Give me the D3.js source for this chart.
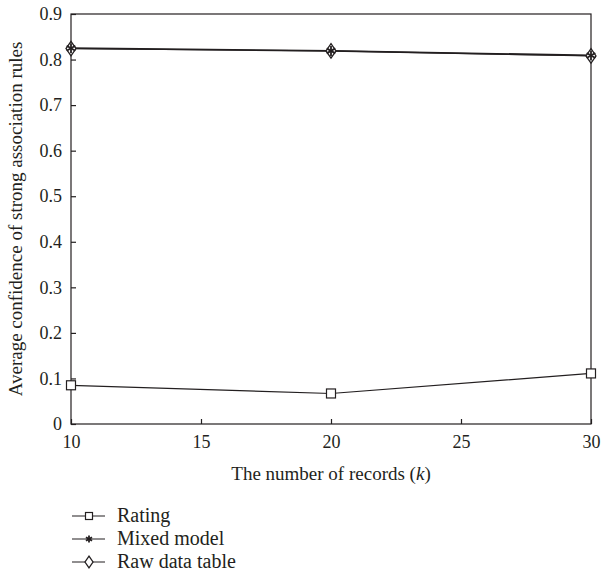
<!DOCTYPE html>
<html>
<head>
<meta charset="utf-8">
<script src="https://cdn.jsdelivr.net/npm/d3@7"></script>
<style>
  body { margin: 0; background: #fff; }
  text { font-family: "Liberation Serif", "DejaVu Serif", serif; fill: #231f20; }
</style>
</head>
<body>
<svg id="chart" width="601" height="584"></svg>
<script>
const records = [10, 20, 30];
const rating = [0.085, 0.067, 0.111];
const mixedModel = [0.825, 0.819, 0.809];
const rawDataTable = [0.824, 0.819, 0.808];
const xTicks = [10, 15, 20, 25, 30];
const yTicks = [0, 0.1, 0.2, 0.3, 0.4, 0.5, 0.6, 0.7, 0.8, 0.9];
const seriesNames = ["Rating", "Mixed model", "Raw data table"];

const svg = d3.select("#chart");
const margin = { top: 14, right: 10, bottom: 160, left: 71 },
  width = 601 - margin.left - margin.right,
  height = 584 - margin.top - margin.bottom;

const x = d3.scaleLinear().domain([10, 30]).range([0, width]);
const y = d3.scaleLinear().domain([0, 0.9]).range([height, 0]);

const g = svg.append("g").attr("transform", `translate(${margin.left},${margin.top})`);

// frame
g.append("rect")
  .attr("width", width).attr("height", height)
  .attr("fill", "none").attr("stroke", "#231f20").attr("stroke-width", 1.2);

// axes, ticks pointing inward
const xAxis = g.append("g")
  .attr("transform", `translate(0,${height})`)
  .call(d3.axisBottom(x).tickValues(xTicks).tickSize(-5).tickPadding(11));
const yAxis = g.append("g")
  .call(d3.axisLeft(y).tickValues(yTicks).tickSize(-5).tickPadding(9)
    .tickFormat((d) => (d === 0 ? "0" : d3.format(".1f")(d))));
[xAxis, yAxis].forEach((a) => {
  a.attr("font-family", null).attr("font-size", null);
  a.select(".domain").remove();
  a.selectAll("line").attr("stroke", "#231f20").attr("stroke-width", 1.2);
  a.selectAll("text").style("font-size", "18px").attr("fill", "#231f20");
});

// axis titles
const xTitle = svg.append("text")
  .attr("x", margin.left + width / 2).attr("y", 480)
  .attr("text-anchor", "middle").style("font-size", "19px");
xTitle.append("tspan").text("The number of records (");
xTitle.append("tspan").style("font-style", "italic").text("k");
xTitle.append("tspan").text(")");

svg.append("text")
  .attr("transform", `translate(22,${margin.top + height / 2}) rotate(-90)`)
  .attr("text-anchor", "middle").style("font-size", "19px")
  .text("Average confidence of strong association rules");

const line = d3.line().x((d, i) => x(records[i])).y((d) => y(d));

function drawSeries(values, w) {
  g.append("path").datum(values)
    .attr("fill", "none").attr("stroke", "#231f20").attr("stroke-width", w)
    .attr("d", line);
}
drawSeries(rating, 1.2);
drawSeries(mixedModel, 1.8);
drawSeries(rawDataTable, 1.2);

function square(sel, cx, cy, s) {
  sel.append("rect").attr("x", cx - s / 2).attr("y", cy - s / 2).attr("width", s).attr("height", s)
    .attr("fill", "#fff").attr("stroke", "#231f20").attr("stroke-width", 1.2);
}
function star(sel, cx, cy, s) {
  const r = s / 2;
  [30, 90, 150].forEach((a) => {
    const rad = (a * Math.PI) / 180;
    sel.append("line")
      .attr("x1", cx - r * Math.cos(rad)).attr("y1", cy - r * Math.sin(rad))
      .attr("x2", cx + r * Math.cos(rad)).attr("y2", cy + r * Math.sin(rad))
      .attr("stroke", "#231f20").attr("stroke-width", 1.8);
  });
}
function diamond(sel, cx, cy, s) {
  const hw = s / 2, hh = s * 0.72;
  sel.append("path")
    .attr("d", `M${cx},${cy - hh}L${cx + hw},${cy}L${cx},${cy + hh}L${cx - hw},${cy}Z`)
    .attr("fill", "#fff").attr("stroke", "#231f20").attr("stroke-width", 1.3);
}

rating.forEach((d, i) => square(g, x(records[i]), y(d), 9));
rawDataTable.forEach((d, i) => diamond(g, x(records[i]), y(d), 10));
mixedModel.forEach((d, i) => star(g, x(records[i]), y(d), 10));

// legend
const markers = [square, star, diamond];
const markerSizes = [7, 7, 8];
const legend = svg.append("g").attr("transform", "translate(72,516)");
seriesNames.forEach((name, i) => {
  const row = legend.append("g").attr("transform", `translate(0,${i * 23})`);
  row.append("line").attr("x1", 0).attr("x2", 33).attr("y1", 0).attr("y2", 0)
    .attr("stroke", "#231f20").attr("stroke-width", 1.2);
  markers[i](row, 17, 0, markerSizes[i]);
  row.append("text").attr("x", 45).attr("y", 6).style("font-size", "20px").text(name);
});
</script>
</body>
</html>
